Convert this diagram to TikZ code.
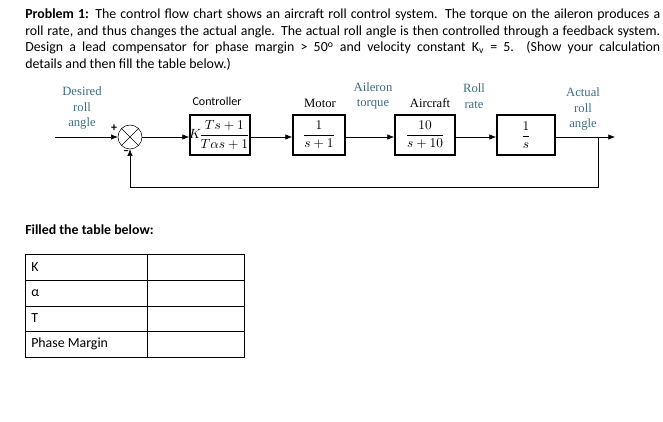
\documentclass[tikz,border=0pt]{standalone}
\usepackage{amsmath}
\usepackage{fontspec}
\setmainfont{Carlito}
\newfontfamily\serifd{Liberation Serif}
\usetikzlibrary{positioning,arrows.meta}
\definecolor{lbl}{RGB}{60,110,130}
\begin{document}
\begin{tikzpicture}[x=0.75pt,y=-0.75pt,>={Latex[length=5pt,width=4pt]},font=\fontsize{10.4}{12}\selectfont]
\tikzset{blk/.style={draw,line width=1.4pt,minimum width=#1*0.75pt,minimum height=30pt,inner sep=0pt,font=\serifd\fontsize{10}{12}\selectfont},
  lab/.style={text=lbl,align=center,font=\serifd\fontsize{9.5}{11.5}\selectfont},
  hd/.style={font=\fontsize{9}{10}\selectfont},
  line/.style={anchor=west,inner sep=0pt}}
\useasboundingbox (0,0) rectangle (663,421);
% problem text
\node[line] (l1) at (25,15) {\hbox to 635\dimexpr0.75pt\relax{\textbf{Problem 1:} The control flow chart shows an aircraft roll control system. The torque on the aileron produces a}};
\node[line] (l2) at (25,32) {\hbox to 635\dimexpr0.75pt\relax{roll rate, and thus changes the actual angle. The actual roll angle is then controlled through a feedback system.}};
\node[line] (l3) at (25,48) {\hbox to 635\dimexpr0.75pt\relax{Design a lead compensator for phase margin > 50\textsuperscript{o} and velocity constant K\textsubscript{v} = 5.\ \ (Show your calculation}};
\node[line] (l4) at (25,64) {details and then fill the table below.)};
% block diagram
\coordinate (in) at (55,137);
\node[draw,circle,minimum size=18pt,inner sep=0pt] (sum) at (130,137) {};
\draw (sum.north west) -- (sum.south east) (sum.north east) -- (sum.south west);
\node[blk=60] (ctrl) at (220,135) {\kern-1pt$K\!\dfrac{Ts+1}{T\alpha s+1}$};
\node[blk=52] (mot) at (319,135) {$\dfrac{1}{s+1}$};
\node[blk=60] (air) at (425,135) {$\dfrac{10}{s+10}$};
\node[blk=58] (int) at (526,135) {$\dfrac{1}{s}$};
\coordinate (out) at (615,137);
\coordinate (br) at (598,137);
\coordinate (fb) at (598,187);
\draw[->] (in) -- (sum);
\draw[->] (sum) -- (sum -| ctrl.west);
\draw[->] (sum -| ctrl.east) -- (sum -| mot.west);
\draw[->] (sum -| mot.east) -- (sum -| air.west);
\draw[->] (sum -| air.east) -- (sum -| int.west);
\draw[->] (sum -| int.east) -- (out);
\draw[->] (br) -- (fb) -- (fb -| sum) -- (sum.south);
\node[hd] at (114,128) {\textbf{+}};
\node[hd] at (126,153) {\textbf{–}};
\node[lab] at (82,108) {Desired\\roll\\angle};
\node[hd] at (217,101) {Controller};
\node[lab,text=black] at (320,103) {Motor};
\node[lab] at (373,96) {Aileron\\torque};
\node[lab,text=black] at (430,103) {Aircraft};
\node[lab] at (474,96) {Roll\\rate};
\node[lab] at (583,109) {Actual\\roll\\angle};
% table
\node[line,font=\bfseries\fontsize{10.4}{12}\selectfont] (tt) at (25,230) {Filled the table below:};
\draw (25,254) rectangle (244,357);
\draw (147,254) -- (147,357);
\foreach \y in {280,306,331} \draw (25,\y) -- (244,\y);
\node[line] (k) at (31,267) {K};
\node[line] (a) at (31,293) {α};
\node[line] (t) at (31,318) {T};
\node[line] (pm) at (31,344) {Phase Margin};
\end{tikzpicture}
\end{document}
